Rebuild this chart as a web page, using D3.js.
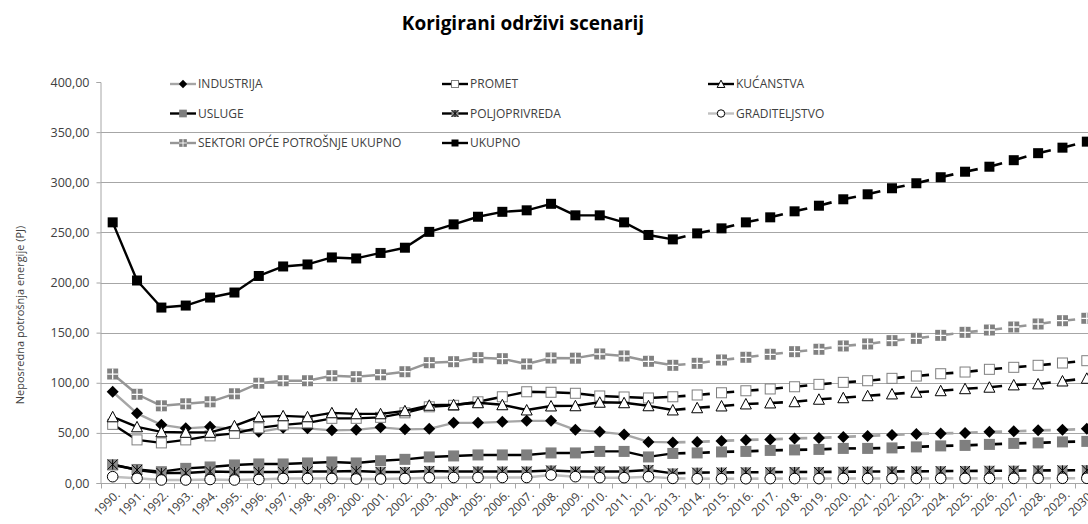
<!DOCTYPE html>
<html>
<head>
<meta charset="utf-8">
<script src="https://cdn.jsdelivr.net/npm/d3@7"></script>
<style>
  html, body { margin: 0; padding: 0; background: #fff; overflow: hidden; }
  svg { display: block; font-family: "Open Sans", sans-serif; }
</style>
</head>
<body>
<svg id="chart" width="1088" height="524"></svg>
<script>
// Years on the category axis
const years = ["1990.","1991.","1992.","1993.","1994.","1995.","1996.","1997.","1998.","1999.",
  "2000.","2001.","2002.","2003.","2004.","2005.","2006.","2007.","2008.","2009.",
  "2010.","2011.","2012.","2013.","2014.","2015.","2016.","2017.","2018.","2019.",
  "2020.","2021.","2022.","2023.","2024.","2025.","2026.","2027.","2028.","2029.","2030."];

// Final historical year; later years are the projection (dashed)
const lastHistoric = "2013.";

// Final energy consumption by sector (PJ)
const industrija = [91,69.5,58,54.5,56,54,51,55,54.5,52.5,53,55.5,
  53.5,54,60,60,61,62,62,53,51,48.5,41,40.5,
  41,42,43,43.5,44.5,45,46,47,48,49,49.5,50,51,51.5,52.5,53,54];
const promet = [58.5,43,40,43,47,49.5,55,58,60,64.5,64.5,65.5,
  70,76,77.5,81,86,91,90.5,89.5,86.8,85.8,84.8,86,
  87.8,90,92,93.8,96,98.4,100.4,102,104.4,106.7,109,110.7,113.4,115.4,117.4,119.7,122];
const kucanstva = [66,56,51,50.5,50.5,57,66,67,66,70,69,69,
  72,77.5,78,80,78,72.8,76.8,77,80.5,80,77,72.8,
  75,76.8,78.8,79.8,81,83.5,85,87,88.8,90.5,92,94,95.5,97.8,98.8,101.7,104.4];
const usluge = [18,13.5,11.3,14.6,16,18,19,19,20,21,20,22.2,
  23.6,26,27,28,28,28,30,30,31.5,31.5,26,29.5,
  30,31,31.5,32.5,33,33.5,34.5,34.5,35,36,37,37.5,38.5,39.5,40,41,41.5];
const poljoprivreda = [18.5,13,10,10,11.5,11,11,11,11.5,11.5,12,11,
  11,12,11.5,11.5,11.5,11.5,12.5,11.5,11.5,11.5,13,9.6,
  10.3,10.5,10.7,10.8,11,11,11.2,11.4,11.5,11.6,11.8,12,12.2,12.3,12.5,12.6,12.8];
const graditeljstvo = [6.3,4.7,3,3,3.5,3,3.5,4.5,4.5,4.5,4,4,
  4.5,5.3,5.5,5.5,5.5,5.5,8,6.3,5.3,5.3,6.3,4.6,
  4.3,4.3,4.3,4.4,4.4,4.4,4.5,4.5,4.5,4.5,4.6,4.6,4.6,4.6,4.7,4.7,4.7];
const sektoriOpcePotrosnje = [108.7,88.5,77,79,81,89,99.5,102,102,107,106,108,
  111,120,121,125,124,118.7,124.7,124.5,128.7,126.7,121.4,117.4,
  119.4,122.7,125.4,128.4,131,133.4,136.7,138.7,142,144.3,147.3,150.3,152.6,155.6,158.6,161.9,164.3];
const ukupno = [260,202,175,177,185,190,206.5,216,218,225,224,229.5,
  234.7,250.5,258,265.6,270.5,272,278.5,267,267,260,247.4,243,
  249,254,260,265,271,276.6,283,288,294,299,305,310.5,315.5,322,329,334.5,340.5];

const yTicks = [0,50,100,150,200,250,300,350,400];

const series = [
  { name: "INDUSTRIJA", values: industrija, line: "#a6a6a6", marker: "diamond" },
  { name: "PROMET", values: promet, line: "#000", marker: "openSquare" },
  { name: "KUĆANSTVA", values: kucanstva, line: "#000", marker: "triangle" },
  { name: "USLUGE", values: usluge, line: "#000", marker: "graySquare" },
  { name: "POLJOPRIVREDA", values: poljoprivreda, line: "#000", marker: "star" },
  { name: "GRADITELJSTVO", values: graditeljstvo, line: "#c0c0c0", marker: "circle" },
  { name: "SEKTORI OPĆE POTROŠNJE UKUPNO", values: sektoriOpcePotrosnje, line: "#969696", marker: "plusSquare" },
  { name: "UKUPNO", values: ukupno, line: "#000", marker: "blackSquare" }
];

const svg = d3.select("#chart");
const axisColor = "#a6a6a6";
const textColor = "#404040";

const x = d3.scaleBand().domain(years).range([100.5, 1099]).paddingInner(0).paddingOuter(0);
const cx = d => x(d) + x.bandwidth() / 2;
const y = d3.scaleLinear().domain([0, 400]).range([483, 82]);

// Title
svg.append("text")
  .attr("x", 523).attr("y", 30)
  .attr("text-anchor", "middle")
  .attr("font-size", 19).attr("font-weight", "bold")
  .attr("fill", "#000")
  .text("Korigirani održivi scenarij");

// Horizontal gridlines (the top one sits under the legend)
svg.append("g")
  .selectAll("line")
  .data(yTicks.filter(t => t > 0 && t < 400))
  .join("line")
  .attr("x1", 100.5).attr("x2", 1099)
  .attr("y1", d => Math.round(y(d)) + 0.5).attr("y2", d => Math.round(y(d)) + 0.5)
  .attr("stroke", axisColor).attr("stroke-width", 1);

// Y axis
const yAxis = svg.append("g")
  .attr("transform", "translate(100.5,0)")
  .call(d3.axisLeft(y).tickValues(yTicks).tickSize(4).tickPadding(7)
    .tickFormat(d => d3.format(".2f")(d).replace(".", ",")));
yAxis.select(".domain").attr("stroke", axisColor);
yAxis.selectAll(".tick line").attr("stroke", axisColor);
yAxis.selectAll("text").attr("font-size", 12.5).attr("fill", textColor)
  .attr("font-family", "Open Sans, sans-serif");

// Y axis title
svg.append("text")
  .attr("transform", "translate(24,315) rotate(-90)")
  .attr("text-anchor", "middle")
  .attr("font-size", 11).attr("fill", textColor)
  .text("Neposredna  potrošnja  energije  (PJ)");

// X axis with ticks at category boundaries
const xAxisG = svg.append("g").attr("transform", "translate(0,483.5)");
xAxisG.append("line").attr("x1", 100.5).attr("x2", 1099).attr("stroke", axisColor);
xAxisG.selectAll("line.tk")
  .data(years.concat(["end"]))
  .join("line").attr("class", "tk")
  .attr("x1", (d, i) => Math.round(x.range()[0] + i * x.bandwidth()) + 0.5)
  .attr("x2", (d, i) => Math.round(x.range()[0] + i * x.bandwidth()) + 0.5)
  .attr("y1", 0).attr("y2", 5)
  .attr("stroke", axisColor);
xAxisG.selectAll("text")
  .data(years)
  .join("text")
  .attr("transform", d => `translate(${cx(d) + 5},${9}) rotate(-45)`)
  .attr("text-anchor", "end")
  .attr("dy", "0.35em")
  .attr("font-size", 12).attr("fill", textColor)
  .text(d => d);

// Marker drawing
function drawMarker(g, type, scale) {
  const s = scale || 1;
  if (type === "diamond") {
    const r = 6 * s;
    g.append("path").attr("d", `M0,${-r}L${r},0L0,${r}L${-r},0Z`).attr("fill", "#000");
  } else if (type === "openSquare") {
    const h = 5 * s;
    g.append("rect").attr("x", -h).attr("y", -h).attr("width", 2 * h).attr("height", 2 * h)
      .attr("fill", "#fff").attr("stroke", "#7f7f7f").attr("stroke-width", 1);
  } else if (type === "triangle") {
    const h = 5.5 * s;
    g.append("path").attr("d", `M0,${-h}L${h},${h * 0.9}L${-h},${h * 0.9}Z`)
      .attr("fill", "#fff").attr("stroke", "#000").attr("stroke-width", 1);
  } else if (type === "graySquare") {
    const h = 5.5 * s;
    g.append("rect").attr("x", -h).attr("y", -h).attr("width", 2 * h).attr("height", 2 * h)
      .attr("fill", "#7f7f7f");
  } else if (type === "star") {
    const h = 5 * s;
    g.append("rect").attr("x", -h).attr("y", -h).attr("width", 2 * h).attr("height", 2 * h)
      .attr("fill", "#8c8c8c");
    g.append("path")
      .attr("d", `M${-h},${-h}L${h},${h}M${h},${-h}L${-h},${h}M0,${-h}L0,${h}`)
      .attr("stroke", "#000").attr("stroke-width", 1).attr("fill", "none");
  } else if (type === "circle") {
    g.append("circle").attr("r", 5.3 * s).attr("fill", "#fff")
      .attr("stroke", "#000").attr("stroke-width", 1);
  } else if (type === "plusSquare") {
    const h = 5.5 * s;
    g.append("rect").attr("x", -h).attr("y", -h).attr("width", 2 * h).attr("height", 2 * h)
      .attr("fill", "#808080");
    g.append("path").attr("d", `M${-h},0L${h},0M0,${-h}L0,${h}`)
      .attr("stroke", "#fff").attr("stroke-width", 1.3 * s);
  } else if (type === "blackSquare") {
    const h = 5 * s;
    g.append("rect").attr("x", -h).attr("y", -h).attr("width", 2 * h).attr("height", 2 * h)
      .attr("fill", "#000");
  }
}

// Series: solid historical line, short dashes for the projection, then markers
const splitIdx = years.indexOf(lastHistoric);
const plot = svg.append("g");
series.forEach(s => {
  const g = plot.append("g");
  const pts = years.map((yr, i) => [cx(yr), y(s.values[i])]);
  g.append("path")
    .attr("d", d3.line()(pts.slice(0, splitIdx + 1)))
    .attr("fill", "none").attr("stroke", s.line).attr("stroke-width", 2.4)
    .attr("stroke-linejoin", "round");
  const dashes = [];
  for (let i = splitIdx; i < pts.length - 1; i++) {
    const a = pts[i], b = pts[i + 1];
    dashes.push([a, [a[0] + (b[0] - a[0]) * 0.52, a[1] + (b[1] - a[1]) * 0.52]]);
  }
  const last = pts[pts.length - 1], prev = pts[pts.length - 2];
  dashes.push([last, [last[0] + (last[0] - prev[0]) * 0.52, last[1] + (last[1] - prev[1]) * 0.52]]);
  g.selectAll("path.dash").data(dashes).join("path").attr("class", "dash")
    .attr("d", d => d3.line()(d))
    .attr("stroke", s.line).attr("stroke-width", 2.6).attr("fill", "none");
  pts.forEach(p => {
    const m = g.append("g").attr("transform", `translate(${p[0]},${p[1]})`);
    drawMarker(m, s.marker, 1);
  });
});

// Legend (three columns)
const legendCols = [170, 442, 708];
const legendRows = [84, 113.5, 143];
const legend = svg.append("g");
series.forEach((s, i) => {
  const lx = legendCols[i % 3], ly = legendRows[Math.floor(i / 3)];
  const g = legend.append("g").attr("transform", `translate(${lx},${ly})`);
  g.append("line").attr("x1", 0).attr("x2", 26).attr("y1", 0).attr("y2", 0)
    .attr("stroke", s.line).attr("stroke-width", 2.4);
  const m = g.append("g").attr("transform", "translate(13,0)");
  drawMarker(m, s.marker, 0.7);
  g.append("text").attr("x", 28).attr("y", 0).attr("dy", "0.36em")
    .attr("font-size", 12).attr("fill", textColor).text(s.name);
});
</script>
</body>
</html>
